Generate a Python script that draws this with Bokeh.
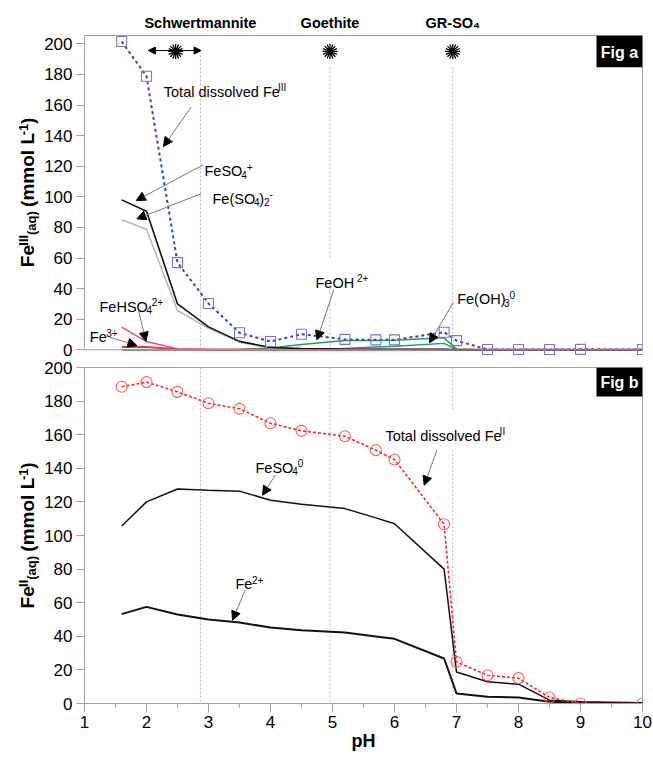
import math
from bokeh.plotting import figure
from bokeh.models import (Range1d, LinearAxis, FixedTicker, Label, Arrow,
                          NormalHead, Span, BoxAnnotation)
from bokeh.layouts import column, row
from bokeh.embed import file_html
from bokeh.resources import INLINE

# ---------------- data ----------------
ph = [1.6, 2.0, 2.5, 3.0, 3.5, 4.0, 4.5, 5.2, 5.7, 6.0, 6.8, 7.0, 7.5, 8.0, 8.5, 9.0, 10.0]

# Fig a : Fe(III) species (mmol/L)
fe3_total   = [201.5, 178.8, 57.0, 30.3, 11.1, 5.4, 10.2, 6.8, 6.5, 6.5, 11.5, 6.0, 0.2, 0.2, 0.2, 0.3, 0.2]
fe_so4_plus = [98.0, 90.6, 30.0, 15.0, 5.5, 1.5, 0.8, 0.5, 0.4, 0.4, 0.3, 0.0, 0.0, 0.0, 0.0, 0.0, 0.0]
fe_so4_2    = [85.0, 78.8, 25.7, 14.0, 5.0, 1.2, 0.5, 0.3, 0.2, 0.2, 0.1, 0.0, 0.0, 0.0, 0.0, 0.0, 0.0]
fe_hso4     = [14.8, 5.4, 0.6, 0.2, 0.1, 0.0, 0.0, 0.0, 0.0, 0.0, 0.0, 0.0, 0.0, 0.0, 0.0, 0.0, 0.0]
fe3_free    = [1.8, 1.8, 0.3, 0.1, 0.0, 0.0, 0.0, 0.0, 0.0, 0.0, 0.0, 0.0, 0.0, 0.0, 0.0, 0.0, 0.0]
fe_oh       = [0.0, 0.0, 0.1, 0.2, 0.3, 1.2, 3.5, 6.0, 6.0, 6.2, 7.8, 0.5, 0.0, 0.0, 0.0, 0.0, 0.0]
fe_oh3      = [0.0, 0.0, 0.0, 0.0, 0.0, 0.1, 0.3, 0.8, 1.8, 2.4, 4.2, 0.2, 0.0, 0.0, 0.0, 0.0, 0.0]

# Fig b : Fe(II) species (mmol/L)
fe2_total = [188.5, 191.3, 185.5, 178.7, 175.4, 166.8, 162.3, 159.1, 150.8, 145.2, 106.7, 24.8, 16.8, 15.1, 3.6, 0.0, 0.0]
fe_so4_0  = [105.7, 120.0, 127.7, 127.0, 126.4, 121.0, 118.6, 116.0, 110.5, 107.0, 80.0, 18.8, 12.9, 11.5, 2.0, 1.0, 0.5]
fe2_free  = [53.2, 57.5, 53.0, 50.0, 48.2, 45.2, 43.6, 42.2, 39.9, 38.5, 26.8, 6.0, 4.0, 3.6, 1.0, 0.5, 0.3]

# minerals
mineral_labels = ["Schwertmannite", "Goethite", "GR-SO\u2084"]
mineral_line_ph = [2.87, 4.96, 6.94]
mineral_star_ph = [2.47, 4.96, 6.94]
mineral_star_val = [195.0, 195.0, 195.0]

y_ticks = list(range(0, 201, 20))
x_ticks = list(range(1, 11))
x_minor = [1.5, 2.5, 3.5, 4.5, 5.5, 6.5, 7.5, 8.5, 9.5]

# ---------------- geometry helpers ----------------
FONT = "Liberation Sans"
GRAY = "#a0a0a0"
STRIP_W = 40
X0PX, PXX = 84.0, 62.0
A_TOP, A_BOT, A_ZERO, A_SC = 35.0, 355.0, 349.3, 1.53
B_ZERO, B_SC = 703.0, 1.68
A_END = (A_ZERO - A_TOP) / A_SC
A_START = (A_ZERO - A_BOT) / A_SC
WF = 0.97  # rendered width factor


def tx(px):
    return 1 + (px - X0PX) / PXX


def tya(py):
    return (A_ZERO - py) / A_SC


def tyb(py):
    return (B_ZERO - py) / B_SC


W_REG = {' ': 278, '(': 333, ')': 333, '+': 584, '-': 333, 'F': 611, 'e': 556, 'S': 667,
         'O': 778, 'H': 722, 'I': 278, 'T': 611, 'o': 556, 't': 278, 'a': 556, 'l': 222,
         'd': 556, 'i': 222, 's': 500, 'v': 500}
W_BOLD = {' ': 278, '(': 333, ')': 333, '+': 584, '-': 333, 'F': 611, 'e': 556, 'S': 667,
          'O': 778, 'G': 778, 'R': 722, 'I': 278, 'i': 278, 'g': 611, 'a': 556, 'm': 889,
          'o': 611, 'l': 278, 'L': 611, 'q': 611, 'p': 611, 'H': 722, 'h': 611, 'c': 556,
          'w': 778, 'r': 389, 't': 333, 'n': 611}


def tw(s, size, bold=False):
    t = W_BOLD if bold else W_REG
    return WF * sum(t.get(c, 556) for c in s) * size / 1000.0


def piece_style(kind, size):
    if kind == "n":
        return size, 0.0
    s = round(size * 0.66)
    if kind == "sup":
        return s, -(0.716 * (size - s) + 1.0)
    return s, 3.5


def split_lead(txt):
    core = txt.lstrip(" ")
    return txt[:len(txt) - len(core)], core.rstrip(" ")


def rich(fig, tyf, x_px, yc_px, pieces, size=14.5, bold=False, color="black"):
    cur = x_px
    base = yc_px + 0.358 * size
    for txt, kind in pieces:
        s, dy = piece_style(kind, size)
        lead, core = split_lead(txt)
        fig.add_layout(Label(x=tx(cur + tw(lead, s, bold)), y=tyf(base + dy), text=core,
                             text_font=FONT, text_font_size=f"{s}px",
                             text_font_style="bold" if bold else "normal",
                             text_align="left", text_baseline="alphabetic",
                             text_color=color))
        cur += tw(txt, s, bold)


def rich_v(fig, xb_px, yc_px, pieces, size=19):
    sub = round(size * 0.68)
    total = sum(tw(t, size if k == "n" else sub, True) for t, k in pieces)
    cur = yc_px + total / 2
    for txt, kind in pieces:
        s = size if kind == "n" else sub
        dx = 0 if kind == "n" else (-4.5 if kind == "sup" else 3.5)
        lead, core = split_lead(txt)
        fig.add_layout(Label(x=xb_px + dx, y=cur - tw(lead, s, True), text=core, text_font=FONT,
                             text_font_size=f"{s}px", text_font_style="bold",
                             angle=math.pi / 2, text_align="left",
                             text_baseline="alphabetic", text_color="black"))
        cur -= tw(txt, s, True)


def arrow(fig, x0, y0, x1, y1):
    fig.add_layout(Arrow(end=NormalHead(size=9, fill_color="black", line_color="black"),
                         x_start=x0, y_start=y0, x_end=x1, y_end=y1,
                         line_color="#777777", line_width=1))


def style_y(ax):
    ax.ticker = FixedTicker(ticks=y_ticks)
    ax.axis_line_color = GRAY
    ax.major_tick_line_color = GRAY
    ax.major_tick_out = 8
    ax.major_tick_in = 0
    ax.minor_tick_line_color = None
    ax.major_label_text_font = FONT
    ax.major_label_text_font_size = "17px"
    ax.major_label_text_color = "black"
    ax.major_label_standoff = 4


def frame_axis(**kw):
    return LinearAxis(ticker=FixedTicker(ticks=[]), axis_line_color=GRAY,
                      major_tick_line_color=None, minor_tick_line_color=None,
                      major_tick_out=0, major_label_text_font_size="0px",
                      major_label_standoff=0, **kw)


def stars(fig, yv):
    for ang in (0.0, math.pi / 8):
        fig.scatter(mineral_star_ph, yv, marker="asterisk", size=15, angle=ang,
                    line_color="black", line_width=1.3)
    fig.scatter(mineral_star_ph, yv, marker="circle", size=6, fill_color="black",
                line_color="black")


# ---------------- left strip (rotated axis titles) ----------------
ls = figure(width=STRIP_W, height=758, x_range=Range1d(0, STRIP_W), y_range=Range1d(758, 0),
            output_backend="svg", toolbar_location=None, x_axis_location=None,
            y_axis_location=None, min_border=0, outline_line_color=None)
ls.xgrid.visible = False
ls.ygrid.visible = False
rich_v(ls, 27.0, 192.0, [("Fe", "n"), ("III", "sup"), ("(aq)", "sub"),
                         (" (mmol L", "n"), ("-1", "sup"), (")", "n")])
rich_v(ls, 27.0, 535.0, [("Fe", "n"), ("II", "sup"), ("(aq)", "sub"),
                         (" (mmol L", "n"), ("-1", "sup"), (")", "n")])

# ---------------- Fig a ----------------
fa = figure(width=653 - STRIP_W, height=360, x_range=Range1d(1, 10), y_range=Range1d(A_START, A_END),
            output_backend="svg", toolbar_location=None, x_axis_location=None,
            min_border_left=84 - STRIP_W, min_border_right=11, min_border_top=35, min_border_bottom=5,
            outline_line_color=None, background_fill_color="white", border_fill_color="white")
fa.xgrid.visible = False
fa.ygrid.visible = False
style_y(fa.yaxis[0])
fa.yaxis[0].bounds = (0, A_END)
top_ax = LinearAxis(ticker=FixedTicker(ticks=mineral_line_ph), axis_line_color=GRAY,
                    major_tick_line_color=None, minor_tick_line_color=None,
                    major_tick_out=0, major_tick_in=0,
                    major_label_overrides={v: t for v, t in zip(mineral_line_ph, mineral_labels)},
                    major_label_text_font=FONT, major_label_text_font_size="14.5px",
                    major_label_text_font_style="bold", major_label_text_color="black",
                    major_label_standoff=5)
fa.add_layout(top_ax, "above")
fa.add_layout(frame_axis(bounds=(0, A_END)), "right")
fa.add_layout(Span(location=0, dimension="width", line_color=GRAY, line_width=1))

fa.segment(x0=[2.87, 4.96, 4.96, 6.94], y0=[192.4, 184.5, 45.3, 184.5],
           x1=[2.87, 4.96, 4.96, 6.94], y1=[0, 60.3, 0, 0],
           line_color="#b8b8b8", line_dash="2 2", line_width=1)

fa.line(ph, fe_oh3, line_color="#179a8f", line_width=1.5)
fa.line(ph, fe_oh, line_color="#1f9e55", line_width=1.5)
fa.line(ph, fe3_free, line_color="#ff3030", line_width=2)
fa.line(ph, fe_hso4, line_color="#e0449a", line_width=1.5)
fa.line(ph, fe_so4_2, line_color="#b8b8b8", line_width=1.5)
fa.line(ph, fe_so4_plus, line_color="#111111", line_width=1.6)
fa.line(ph, fe3_total, line_color="#3346c2", line_width=2, line_dash="3 3")
fa.scatter(ph, fe3_total, marker="square", size=10, fill_color=None,
           line_color="#7474d6", line_width=1.1)

stars(fa, mineral_star_val)
fa.add_layout(Arrow(start=NormalHead(size=7, fill_color="black", line_color="black"),
                    end=NormalHead(size=7, fill_color="black", line_color="black"),
                    x_start=2.03, y_start=195.6, x_end=2.88, y_end=195.6,
                    line_color="black", line_width=1))

fa.add_layout(BoxAnnotation(left=tx(596), right=10, top=A_END, bottom=tya(66.7),
                            fill_color="black", fill_alpha=1.0, line_color=None))
fa.add_layout(Label(x=tx(619), y=tya(51.5), text="Fig a", text_font=FONT, text_font_size="16px",
                    text_font_style="bold", text_color="white", text_align="center",
                    text_baseline="middle"))

rich(fa, tya, 163.3, 86.0, [("Total dissolved Fe", "n"), ("III", "sup")])
arrow(fa, 2.72, 158.6, 2.274, 132.9)
rich(fa, tya, 204.0, 165.7, [("FeSO", "n"), ("4", "sub"), ("+", "sup")])
arrow(fa, 2.915, 120.9, 1.834, 97.6)
rich(fa, tya, 212.0, 193.0, [("Fe(SO", "n"), ("4", "sub"), (")", "n"), ("2", "sub"), ("-", "sup")])
arrow(fa, 2.88, 102.0, 1.845, 85.6)
rich(fa, tya, 99.0, 301.0, [("FeHSO", "n"), ("4", "sub"), ("2+", "sup")])
arrow(fa, 1.871, 25.7, 1.99, 5.6)
rich(fa, tya, 89.3, 331.7, [("Fe", "n"), ("3+", "sup")])
arrow(fa, 1.41, 8.2, 1.845, 2.8)
rich(fa, tya, 315.0, 277.0, [("FeOH ", "n"), ("2+", "sup")])
arrow(fa, 5.02, 39.2, 4.75, 6.5)
rich(fa, tya, 456.7, 293.7, [("Fe(OH)", "n"), ("3", "sub"), ("0", "sup")])
arrow(fa, 6.95, 31.1, 6.565, 4.6)

# ---------------- Fig b ----------------
fb = figure(width=653 - STRIP_W, height=398, x_range=Range1d(1, 10), y_range=Range1d(0, 200),
            output_backend="svg", toolbar_location=None,
            min_border_left=84 - STRIP_W, min_border_right=11, min_border_top=7, min_border_bottom=55,
            outline_line_color=GRAY, background_fill_color="white", border_fill_color="white")
fb.xgrid.visible = False
fb.ygrid.visible = False
style_y(fb.yaxis[0])
xa = fb.xaxis[0]
xa.ticker = FixedTicker(ticks=x_ticks, minor_ticks=x_minor)
xa.axis_line_color = GRAY
xa.major_tick_line_color = GRAY
xa.minor_tick_line_color = GRAY
xa.major_tick_out = 9
xa.major_tick_in = 0
xa.minor_tick_out = 4
xa.minor_tick_in = 0
xa.major_label_text_font = FONT
xa.major_label_text_font_size = "17px"
xa.major_label_text_color = "black"
xa.major_label_standoff = 3
xa.axis_label = "pH"
xa.axis_label_text_font = FONT
xa.axis_label_text_font_size = "18px"
xa.axis_label_text_font_style = "bold"
xa.axis_label_text_color = "black"
xa.axis_label_standoff = 0

fb.segment(x0=[2.87, 4.96, 6.94, 6.94], y0=[200, 200, 200, 150.8],
           x1=[2.87, 4.96, 6.94, 6.94], y1=[0, 0, 174.6, 0],
           line_color="#b8b8b8", line_dash="2 2", line_width=1)

fb.line(ph, fe_so4_0, line_color="#111111", line_width=1.5)
fb.line(ph, fe2_free, line_color="#111111", line_width=2)
fb.line(ph, fe2_total, line_color="#ff2626", line_width=1.6, line_dash="3 2")
fb.scatter(ph, fe2_total, marker="circle", size=11, fill_color=None,
           line_color="#ff5a5a", line_width=1.1)

fb.add_layout(BoxAnnotation(left=tx(596), right=10, top=200, bottom=tyb(396.0),
                            fill_color="black", fill_alpha=1.0, line_color=None))
fb.add_layout(Label(x=tx(619), y=tyb(381.5), text="Fig b", text_font=FONT, text_font_size="16px",
                    text_font_style="bold", text_color="white", text_align="center",
                    text_baseline="middle"))

rich(fb, tyb, 255.0, 462.0, [("FeSO", "n"), ("4", "sub"), ("0", "sup")])
arrow(fb, 4.076, 135.9, 3.871, 124.0)
rich(fb, tyb, 235.0, 578.7, [("Fe", "n"), ("2+", "sup")])
arrow(fb, 3.59, 67.4, 3.387, 49.6)
rich(fb, tyb, 385.0, 430.0, [("Total dissolved Fe", "n"), ("II", "sup")])
arrow(fb, 6.684, 150.8, 6.479, 129.9)

layout = row(ls, column(fa, fb))
open("out.html", "w").write(file_html(layout, INLINE))
